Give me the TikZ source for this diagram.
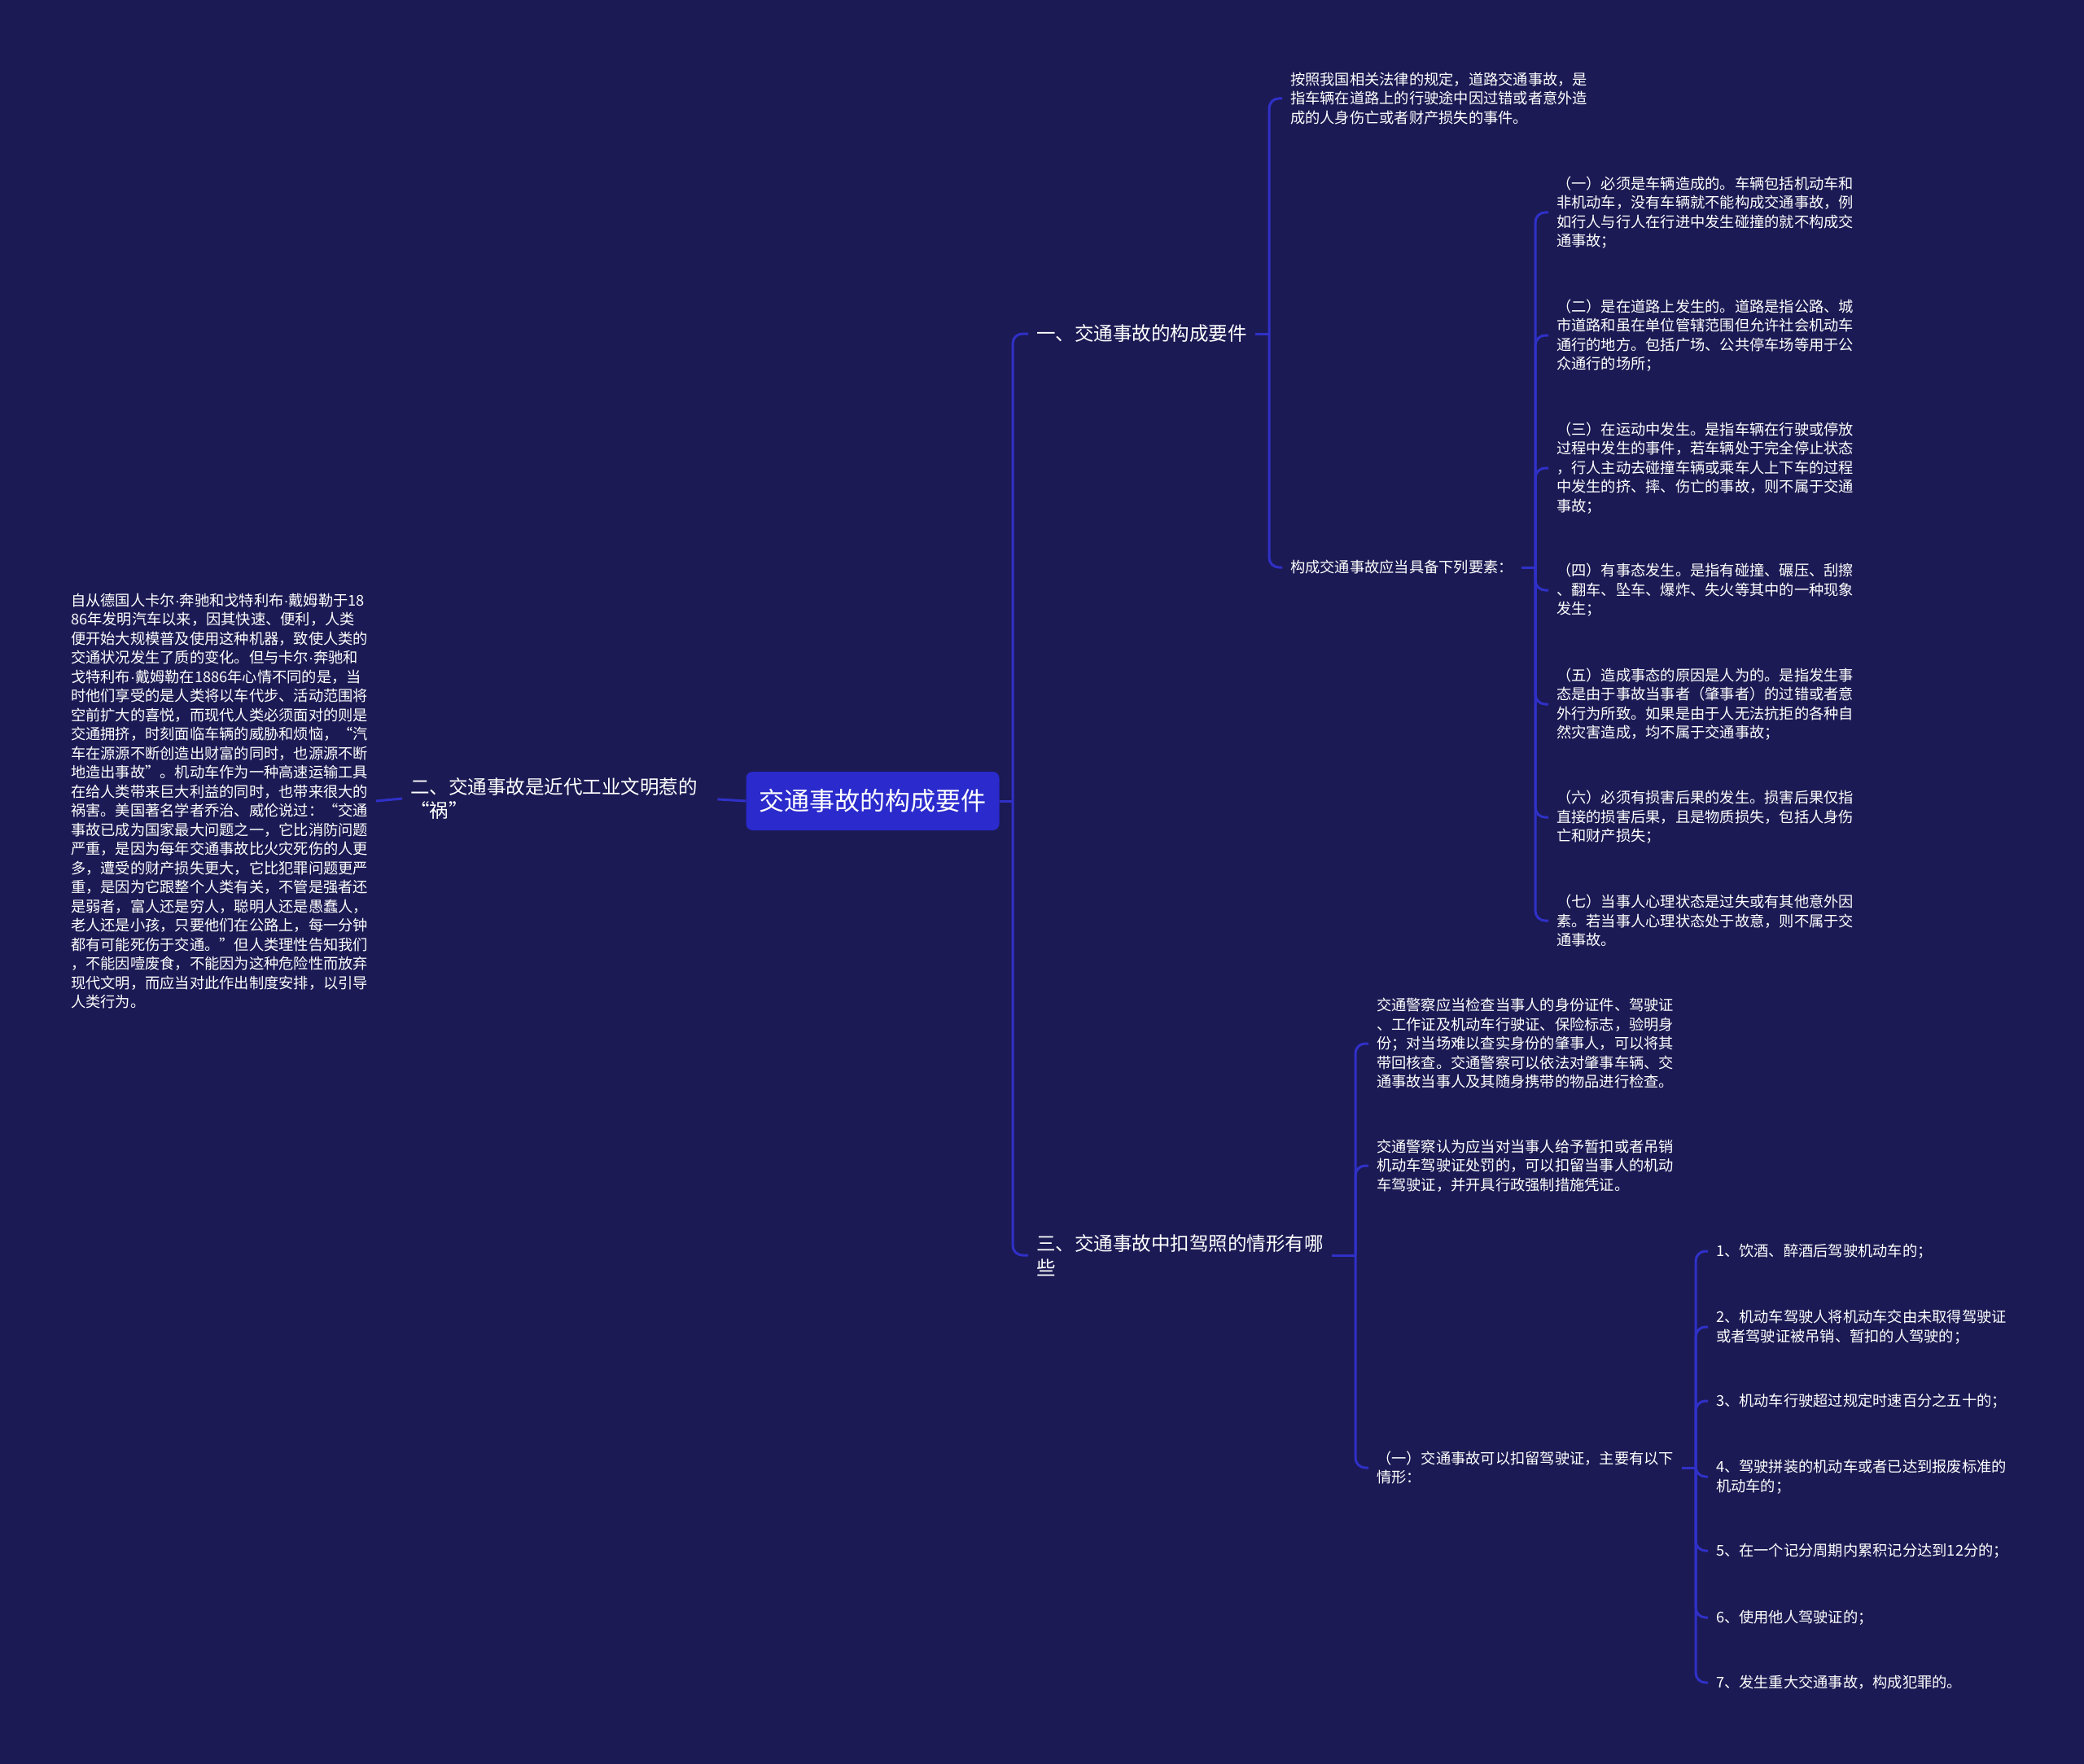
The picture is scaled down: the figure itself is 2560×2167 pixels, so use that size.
\documentclass[tikz,border=0pt]{standalone}
\usepackage{fontspec}
\setmainfont{Noto Sans CJK SC}
\newfontfamily\latinschrift{Liberation Sans}
\XeTeXlinebreaklocale "zh"
\usepackage{tikz}
\definecolor{hintergrund}{RGB}{27,26,84}
\definecolor{linienblau}{RGB}{48,48,200}
\definecolor{kernblau}{RGB}{42,42,205}
\newcommand{\pkt}{{\latinschrift ·}}

\tikzset{
  kern/.style={fill=kernblau, rounded corners=8pt, text=white, minimum width=311pt, minimum height=72pt, inner sep=0pt, font=\fontsize{31}{36}\selectfont},
  ast/.style={text=white, anchor=west, align=left, inner sep=0pt, outer xsep=10pt, outer ysep=0pt, font=\fontsize{23.5}{29.5}\selectfont},
  blatt/.style={text=white, anchor=west, align=left, inner sep=0pt, outer xsep=10pt, outer ysep=0pt, font=\fontsize{18.25}{23.5}\selectfont},
  linie/.style={draw=linienblau, line width=3pt, rounded corners=12pt}
}

\begin{document}
\begin{tikzpicture}[x=1pt, y=-1pt]
		%Hintergrund
		\fill[hintergrund] (0,0) rectangle (2560,2167);
		% Wurzel
		\node[kern] (kern) at (1072,984) {交通事故的构成要件};
		% Hauptaeste
		\node[ast] (b1) at (1263,410) {一、交通事故的构成要件};
		\node[ast] (b2) at (494,981) {二、交通事故是近代工业文明惹的\\ “祸”};
		\node[ast] (b3) at (1263,1542) {三、交通事故中扣驾照的情形有哪\\些};
		% Ast eins
		\node[blatt] (def) at (1575,121) {按照我国相关法律的规定，道路交通事故，是\\指车辆在道路上的行驶途中因过错或者意外造\\成的人身伤亡或者财产损失的事件。};
		\node[blatt] (req) at (1575,697) {构成交通事故应当具备下列要素：};
		\node[blatt] (r1) at (1902,261) {（一）必须是车辆造成的。车辆包括机动车和\\非机动车，没有车辆就不能构成交通事故，例\\如行人与行人在行进中发生碰撞的就不构成交\\通事故；};
		\node[blatt] (r2) at (1902,412) {（二）是在道路上发生的。道路是指公路、城\\市道路和虽在单位管辖范围但允许社会机动车\\通行的地方。包括广场、公共停车场等用于公\\众通行的场所；};
		\node[blatt] (r3) at (1902,575) {（三）在运动中发生。是指车辆在行驶或停放\\过程中发生的事件，若车辆处于完全停止状态\\，行人主动去碰撞车辆或乘车人上下车的过程\\中发生的挤、摔、伤亡的事故，则不属于交通\\事故；};
		\node[blatt] (r4) at (1902,725) {（四）有事态发生。是指有碰撞、碾压、刮擦\\、翻车、坠车、爆炸、失火等其中的一种现象\\发生；};
		\node[blatt] (r5) at (1902,865) {（五）造成事态的原因是人为的。是指发生事\\态是由于事故当事者（肇事者）的过错或者意\\外行为所致。如果是由于人无法抗拒的各种自\\然灾害造成，均不属于交通事故；};
		\node[blatt] (r6) at (1902,1004) {（六）必须有损害后果的发生。损害后果仅指\\直接的损害后果，且是物质损失，包括人身伤\\亡和财产损失；};
		\node[blatt] (r7) at (1902,1131) {（七）当事人心理状态是过失或有其他意外因\\素。若当事人心理状态处于故意，则不属于交\\通事故。};
		% Ast zwei
		\node[blatt] (hist) at (77,984) {自从德国人卡尔\pkt 奔驰和戈特利布\pkt 戴姆勒于18\\86年发明汽车以来，因其快速、便利，人类\\便开始大规模普及使用这种机器，致使人类的\\交通状况发生了质的变化。但与卡尔\pkt 奔驰和\\戈特利布\pkt 戴姆勒在1886年心情不同的是，当\\时他们享受的是人类将以车代步、活动范围将\\空前扩大的喜悦，而现代人类必须面对的则是\\交通拥挤，时刻面临车辆的威胁和烦恼，“汽\\车在源源不断创造出财富的同时，也源源不断\\地造出事故”。机动车作为一种高速运输工具\\在给人类带来巨大利益的同时，也带来很大的\\祸害。美国著名学者乔治、威伦说过：“交通\\事故已成为国家最大问题之一，它比消防问题\\严重，是因为每年交通事故比火灾死伤的人更\\多，遭受的财产损失更大，它比犯罪问题更严\\重，是因为它跟整个人类有关，不管是强者还\\是弱者，富人还是穷人，聪明人还是愚蠢人，\\老人还是小孩，只要他们在公路上，每一分钟\\都有可能死伤于交通。”但人类理性告知我们\\，不能因噎废食，不能因为这种危险性而放弃\\现代文明，而应当对此作出制度安排，以引导\\人类行为。};
		% Ast drei
		\node[blatt] (p1) at (1681,1282) {交通警察应当检查当事人的身份证件、驾驶证\\、工作证及机动车行驶证、保险标志，验明身\\份；对当场难以查实身份的肇事人，可以将其\\带回核查。交通警察可以依法对肇事车辆、交\\通事故当事人及其随身携带的物品进行检查。};
		\node[blatt] (p2) at (1681,1432) {交通警察认为应当对当事人给予暂扣或者吊销\\机动车驾驶证处罚的，可以扣留当事人的机动\\车驾驶证，并开具行政强制措施凭证。};
		\node[blatt] (p3) at (1681,1803) {（一）交通事故可以扣留驾驶证，主要有以下\\情形：};
		\node[blatt] (k1) at (2098,1537) {1、饮酒、醉酒后驾驶机动车的；};
		\node[blatt] (k2) at (2098,1630) {2、机动车驾驶人将机动车交由未取得驾驶证\\或者驾驶证被吊销、暂扣的人驾驶的；};
		\node[blatt] (k3) at (2098,1721) {3、机动车行驶超过规定时速百分之五十的；};
		\node[blatt] (k4) at (2098,1814) {4、驾驶拼装的机动车或者已达到报废标准的\\机动车的；};
		\node[blatt] (k5) at (2098,1905) {5、在一个记分周期内累积记分达到12分的；};
		\node[blatt] (k6) at (2098,1987) {6、使用他人驾驶证的；};
		\node[blatt] (k7) at (2098,2067) {7、发生重大交通事故，构成犯罪的。};
		% Verzweigungen
		\coordinate (stamm) at (1244,984);
		\coordinate (j1) at (1559,410);
		\coordinate (j2) at (1886,697);
		\coordinate (j3) at (1665,1542);
		\coordinate (j4) at (2083,1803);
		% Verbindungen
		\draw[linie] (kern.east) -- (stamm);
		\draw[linie] (stamm) |- (b1.west);
		\draw[linie] (stamm) |- (b3.west);
		\draw[linie, shorten >=15pt] (kern.west) -- (b2.east);
		\draw[linie] (b2.west) -- (hist.east);
		\draw[linie] (b1.east) -- (j1);
		\draw[linie] (j1) |- (def.west);
		\draw[linie] (j1) |- (req.west);
		\draw[linie] (req.east) -- (j2);
		\foreach \n in {1,...,7} \draw[linie] (j2) |- (r\n.west);
		\draw[linie] (b3.east) -- (j3);
		\foreach \n in {p1,p2,p3} \draw[linie] (j3) |- (\n.west);
		\draw[linie] (p3.east) -- (j4);
		\foreach \n in {1,...,7} \draw[linie] (j4) |- (k\n.west);
\end{tikzpicture}
\end{document}
